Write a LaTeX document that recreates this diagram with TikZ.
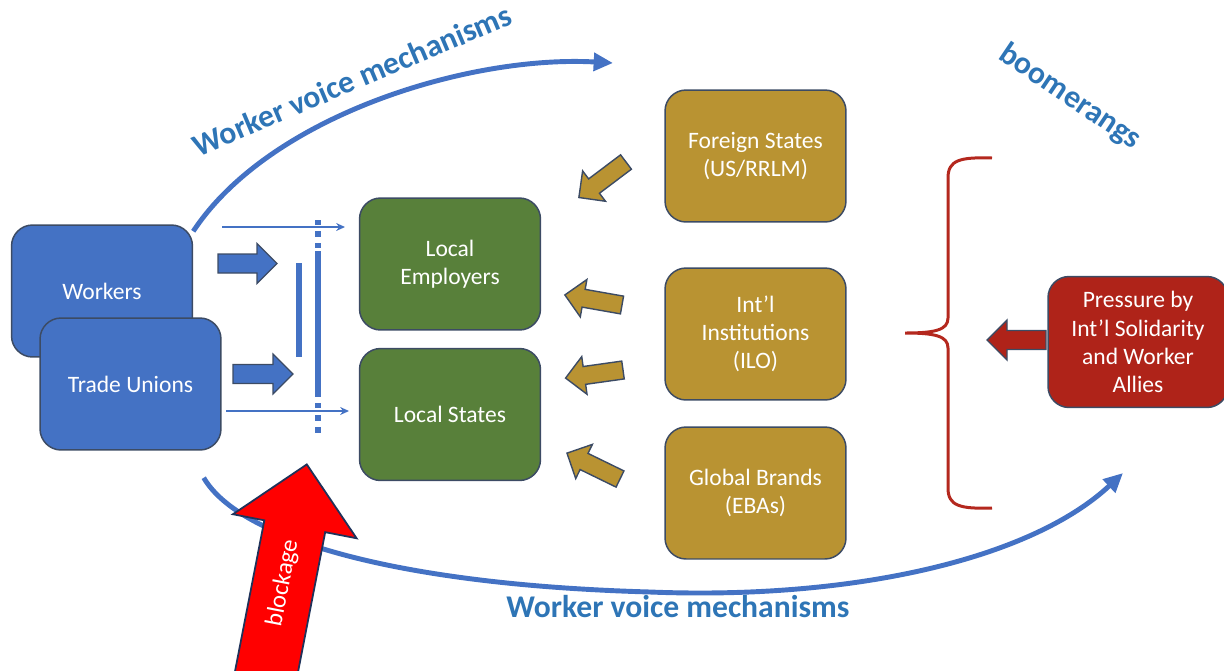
\documentclass[tikz,border=0pt]{standalone}
\usepackage{fontspec}
\setmainfont{Carlito}
\usetikzlibrary{positioning,calc,arrows.meta}
\tikzset{>=stealth}

\definecolor{voiceblue}{RGB}{68,114,196}
\definecolor{labelblue}{RGB}{46,117,182}
\definecolor{localgreen}{RGB}{88,128,58}
\definecolor{intlgold}{RGB}{185,147,50}
\definecolor{pressred}{RGB}{175,35,25}
\definecolor{bracered}{RGB}{180,40,30}
\definecolor{boxline}{RGB}{60,75,100}
\definecolor{navyline}{RGB}{31,50,90}

\tikzset{
  box/.style={draw=boxline,line width=0.85pt,rounded corners=12pt,
    minimum width=3.62cm,minimum height=2.64cm,align=center,text=white,
    font=\fontsize{13.4}{16}\selectfont},
  workerbox/.style={box,fill=voiceblue},
  localbox/.style={box,fill=localgreen},
  intlbox/.style={box,fill=intlgold},
  pressbox/.style={box,fill=pressred,minimum width=3.6cm,minimum height=2.62cm},
  voicearc/.style={voiceblue,line width=2.8pt,-{Triangle[length=11pt,width=10pt]}},
  thinarrow/.style={voiceblue,line width=1.1pt,-{Stealth[length=5pt,width=4.5pt]}},
  barline/.style={voiceblue,line width=3.4pt},
  voicelabel/.style={text=labelblue,font=\fontsize{18}{20}\bfseries\selectfont},
  bluearrow/.style={fill=voiceblue,draw=boxline,line width=0.7pt},
  goldarrow/.style={fill=intlgold,draw=boxline,line width=0.8pt},
  redarrow/.style={fill=pressred,draw=boxline,line width=0.8pt},
  blockarrow/.style={fill=red,draw=navyline,line width=1pt},
  brace/.style={bracered,line width=1.7pt}
}
% style, tail, angle, length, shaft half width, head half width, head length
\newcommand*{\blockarrow}[7]{%
  \draw[#1,shift={(#2)},rotate=#3] (0,-#5) -- ({#4-#7},-#5) -- ({#4-#7},-#6)
    -- (#4,0) -- ({#4-#7},#6) -- ({#4-#7},#5) -- (0,#5) -- cycle;}

\begin{document}
\begin{tikzpicture}[x=0.02cm,y=-0.02cm]
\useasboundingbox (0,0) rectangle (1224,670);
\clip (0,0) rectangle (1224,670);
% Units are pixels, y goes down

% Boxes
\node[workerbox] (W) at (102,291) {Workers};
\node[workerbox] (TU) at (130.5,384) {Trade Unions};
\node[localbox] (LE) at (450,264) {Local\\Employers};
\node[localbox] (LS) at (450,414.5) {Local States};
\node[intlbox] (FS) at (755.5,156) {Foreign States\\(US/RRLM)};
\node[intlbox] (II) at (755.5,334) {Int’l\\Institutions\\(ILO)};
\node[intlbox] (GB) at (755.5,493) {Global Brands\\(EBAs)};
\node[pressbox] (P) at (1138,342) {Pressure by\\Int’l Solidarity\\and Worker\\Allies};

% Worker voice arcs
\coordinate (top) at (613,63);
\draw[voicearc] ([yshift=-4pt]W.north east) .. controls (270,115) and (470,55) .. (top);
\node[voicelabel,rotate=23] (wvtop) at (352,80) {Worker voice mechanisms};

\coordinate (b0) at ($(TU.south east)+(-18,27)$);
\coordinate (b1) at (650,592);
\coordinate (boom) at (1123,473);
\draw[voicearc] (b0) .. controls (240,540) and (400,585) .. (b1)
  .. controls (850,600) and (1030,560) .. (boom);
\node[voicelabel] (wvbot) at (678,607) {Worker voice mechanisms};
\node[voicelabel,rotate=-34] (boomlabel) at (1070,97) {boomerangs};

% Thin arrows and the bars
\coordinate (t1) at (222,227);
\coordinate (t2) at (226,411);
\draw[thinarrow] (t1) -- (345,227);
\draw[thinarrow] (t2) -- (349,411);
\draw[barline] (299,263) -- (299,357);
\foreach \a/\b in {220/225,231/237,243/248,251/397,403/408,415/421,427/433}
  \draw[barline] (318,\a) -- (318,\b);

% Block arrows
\blockarrow{bluearrow}{218,263.5}{0}{59}{9.5}{20}{20}
\blockarrow{bluearrow}{233,374}{0}{60}{9.5}{20}{20}
\blockarrow{goldarrow}{626,162}{217}{59}{9}{19}{19}
\blockarrow{goldarrow}{622,305}{170}{58}{9}{19}{19}
\blockarrow{goldarrow}{623,370}{188}{58}{9}{19}{19}
\blockarrow{goldarrow}{620,479}{154}{59}{9}{19}{19}
\blockarrow{redarrow}{1046,340}{180}{59}{9.5}{20}{20}

% Brace
\draw[brace] (992,158) .. controls (960,157) and (948,160) .. (948,178) -- (948,318)
  .. controls (948,330) and (935,333) .. (905,333)
  .. controls (935,333) and (948,336) .. (948,348) -- (948,488)
  .. controls (948,506) and (960,509) .. (992,508);

% Blockage
\blockarrow{blockarrow}{261,700}{79}{240}{31}{63}{63}
\node[rotate=79,text=white,font=\fontsize{14}{16}\selectfont] (blk) at (283,583) {blockage};

\end{tikzpicture}
\end{document}
